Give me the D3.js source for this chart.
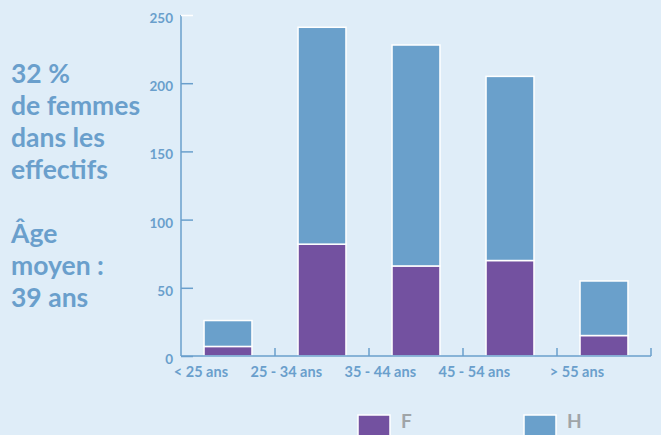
<!DOCTYPE html>
<html>
<head>
<meta charset="utf-8">
<script src="https://cdn.jsdelivr.net/npm/d3@7"></script>
<style>
  body { margin: 0; background: #dfedf8; }
  svg { display: block; font-family: "Lato", "Open Sans", sans-serif; }
</style>
</head>
<body>
<div class="chart"></div>
<script>
var categories = ["< 25 ans", "25 - 34 ans", "35 - 44 ans", "45 - 54 ans", "> 55 ans"];
var femmes = [7, 82, 66, 70, 15];
var hommes = [19, 159, 162, 135, 40];
var yTicks = [0, 50, 100, 150, 200, 250];
var seriesNames = ["F", "H"];
var sideText = ["32 %", "de femmes", "dans les", "effectifs", "", "Âge", "moyen :", "39 ans"];

var svgWidth = 661;
var svgHeight = 435;
var margin = { top: 15, right: 10, bottom: 79, left: 181 };
var width = 651 - margin.left;
var height = 356 - margin.top;

var blue = "#6aa0cb";
var purple = "#7351a0";
var textBlue = "#6a9fcc";

var svg = d3.select(".chart")
  .append("svg")
  .attr("width", svgWidth)
  .attr("height", svgHeight);

svg.append("rect")
  .attr("width", svgWidth)
  .attr("height", svgHeight)
  .attr("fill", "#dfedf8");

var chartGroup = svg.append("g")
  .attr("transform", `translate(${margin.left}, ${margin.top})`);

var data = categories.map((c, i) => ({ cat: c, F: femmes[i], H: hommes[i] }));
var stack = d3.stack().keys(seriesNames)(data);

var x = d3.scaleBand()
  .domain(categories)
  .range([0, width])
  .paddingInner(0.49)
  .paddingOuter(0.245);

var y = d3.scaleLinear()
  .domain([0, 250])
  .range([height, 0]);

var color = d3.scaleOrdinal().domain(seriesNames).range([purple, blue]);

// bars
chartGroup.selectAll("g.layer")
  .data(stack)
  .enter()
  .append("g")
  .attr("class", "layer")
  .attr("fill", d => color(d.key))
  .selectAll("rect")
  .data(d => d)
  .enter()
  .append("rect")
  .attr("x", d => x(d.data.cat))
  .attr("y", d => y(d[1]))
  .attr("width", x.bandwidth())
  .attr("height", d => y(d[0]) - y(d[1]))
  .attr("stroke", "#ffffff")
  .attr("stroke-width", 1.5);

// y axis
var yAxis = chartGroup.append("g")
  .call(d3.axisRight(y).tickValues(yTicks).tickSize(12).tickFormat(""));
yAxis.select(".domain").attr("stroke", textBlue).attr("stroke-width", 1.5).attr("d", `M0,${height}V0`);
yAxis.selectAll(".tick line")
  .attr("stroke", d => d === 250 ? "#ffffff" : textBlue)
  .attr("stroke-width", 1.5);

chartGroup.selectAll("text.ylab")
  .data(yTicks)
  .enter()
  .append("text")
  .attr("class", "ylab")
  .attr("x", -8)
  .attr("y", d => y(d) + 8)
  .attr("text-anchor", "end")
  .attr("fill", textBlue)
  .attr("font-size", 13.5)
  .attr("font-weight", "bold")
  .text(d => d);

// x axis
var xAxis = chartGroup.append("g")
  .attr("transform", `translate(0, ${height})`);
xAxis.append("line")
  .attr("x1", 0).attr("x2", width)
  .attr("stroke", textBlue).attr("stroke-width", 1.5);
xAxis.selectAll("line.xtick")
  .data(categories)
  .enter()
  .append("line")
  .attr("class", "xtick")
  .attr("x1", d => x(d) + x.bandwidth() + x.step() * x.paddingInner() / 2)
  .attr("x2", d => x(d) + x.bandwidth() + x.step() * x.paddingInner() / 2)
  .attr("y1", 0).attr("y2", -8)
  .attr("stroke", textBlue).attr("stroke-width", 1.5);
// labels end at the bar centre, as in the original layout
xAxis.selectAll("text")
  .data(categories)
  .enter()
  .append("text")
  .attr("x", d => x(d) + x.bandwidth() / 2)
  .attr("y", 21)
  .attr("text-anchor", "end")
  .attr("fill", textBlue)
  .attr("font-size", 14.5)
  .attr("font-weight", "bold")
  .text(d => d);

// side text
svg.selectAll("text.side")
  .data(sideText)
  .enter()
  .append("text")
  .attr("class", "side")
  .attr("x", 11)
  .attr("y", (d, i) => 83 + i * 32)
  .attr("fill", textBlue)
  .attr("font-size", 26.5)
  .attr("font-weight", "bold")
  .text(d => d);

// legend
var legendX = d3.scaleOrdinal().domain(seriesNames).range([358, 524]);
var legend = svg.selectAll("g.legend")
  .data(seriesNames)
  .enter()
  .append("g")
  .attr("class", "legend")
  .attr("transform", d => `translate(${legendX(d)}, 415)`);
legend.append("rect")
  .attr("width", 32)
  .attr("height", 24)
  .attr("fill", d => color(d))
  .attr("stroke", "#ffffff")
  .attr("stroke-width", 1.5);
legend.append("text")
  .attr("x", 43)
  .attr("y", 13)
  .attr("fill", "#a0a5a8")
  .attr("font-size", 19)
  .attr("font-weight", "bold")
  .text(d => d);
</script>
</body>
</html>
